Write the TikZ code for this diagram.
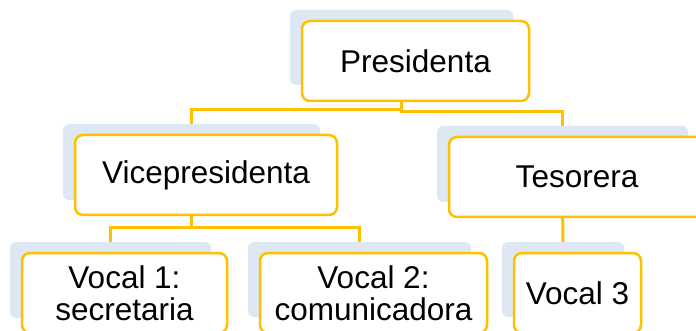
\documentclass[tikz,border=0pt]{standalone}
\usepackage{fontspec}
\setmainfont{Liberation Sans}
\usepackage{tikz}
\usetikzlibrary{positioning}
\usetikzlibrary{calc}
\definecolor{gold}{HTML}{FFC000}
\definecolor{paleblue}{HTML}{DEE8F4}
\tikzset{
    org chart/.style={
            x=1pt,y=1pt,
            back/.style={rectangle, rounded corners=6pt, fill=paleblue, minimum height=75pt, inner sep=0pt, outer sep=0pt},
            card/.style={rectangle, rounded corners=8pt, draw=gold, line width=2.5pt, fill=white, minimum height=80pt, inner sep=0pt, outer sep=0pt, anchor=north west, align=center, font=\fontsize{31.5}{32.5}\selectfont},
            link/.style={draw=gold, line width=3pt}
        }
    }

\begin{document}
\begin{tikzpicture}[org chart]
        \clip (0,0) rectangle (696,-331);
        \node (PS) [back, minimum width=223pt] at (401.5,-47.5) {};
        \node (VS) [back, minimum width=257pt, minimum height=76pt] at (191.5,-162) {};
        \node (TS) [back, minimum width=251pt, minimum height=76pt] at (562.5,-164) {};
        \node (V1S) [back, minimum width=201pt, minimum height=76pt] at (110.5,-280) {};
        \node (V2S) [back, minimum width=223pt] at (359.5,-279.5) {};
        \node (V3S) [back, minimum width=122pt] at (563,-279.5) {};
        \draw [link] (PS.south) -- ([yshift=-25pt]PS.south) -| (VS.north);
        \draw [link] (PS.south) -- ([yshift=-27pt]PS.south) -| (TS.north);
        \draw [link] (VS.south) -- ([yshift=-28pt]VS.south) -| (V1S.north);
        \draw [link] ([yshift=-28pt]VS.south) -| (V2S.north);
        \draw [link] (TS.south) -- (V3S.north);
        \node (P) [card, minimum width=227pt] at ([shift={(12,-11)}]PS.north west) {Presidenta};
        \node (V) [card, minimum width=262pt] at ([shift={(12,-11)}]VS.north west) {Vicepresidenta};
        \node (T) [card, minimum width=256pt] at ([shift={(12,-11)}]TS.north west) {Tesorera};
        \node (V1) [card, minimum width=205pt] at ([shift={(12,-11)}]V1S.north west) {Vocal 1:\\secretaria};
        \node (V2) [card, minimum width=227pt] at ([shift={(12,-11)}]V2S.north west) {Vocal 2:\\comunicadora};
        \node (V3) [card, minimum width=127pt] at ([shift={(12,-11)}]V3S.north west) {Vocal 3};
    \end{tikzpicture}
\end{document}
